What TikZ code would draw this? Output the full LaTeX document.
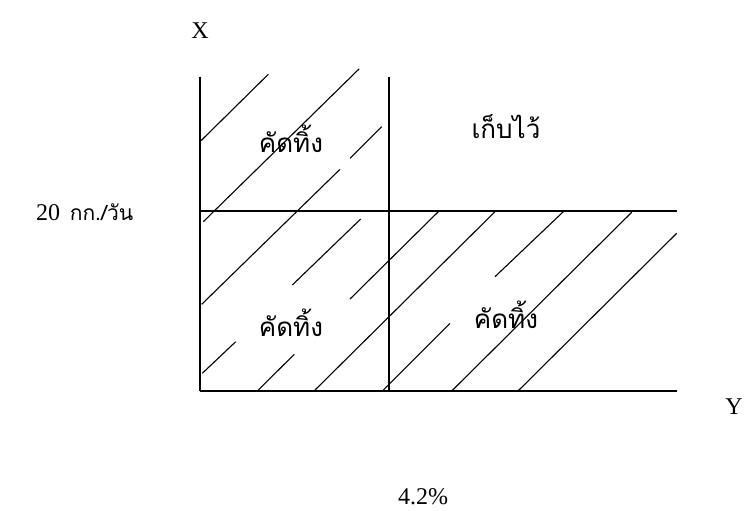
\documentclass[tikz,border=0pt]{standalone}
\usepackage{fontspec}
\setmainfont{Liberation Serif}
\newfontfamily\thai[Script=Thai]{Loma}
\tikzset{
  frame/.style={line width=1.6pt},
  hatch/.style={line width=1.1pt},
  lat/.style={font=\fontsize{24}{28}\selectfont, inner sep=0pt},
  thaitxt/.style={font=\thai\fontsize{26}{30}\selectfont, inner sep=0pt, anchor=base},
}
\begin{document}
\begin{tikzpicture}[x=1pt,y=-1pt]
\useasboundingbox (0,0) rectangle (744,511);
% frame
\coordinate (tl) at (200,76.5);
\coordinate (bl) at (200,391);
\coordinate (tm) at (389,76.5);
\coordinate (bm) at (389,391);
\coordinate (ml) at (200,211);
\coordinate (mr) at (677,211);
\coordinate (br) at (677,391);
\draw[frame] (tl) -- (bl);
\draw[frame] (tm) -- (bm);
\draw[frame] (ml) -- (mr);
\draw[frame] (bl) -- (br);
% hatching
\draw[hatch] (200,141.7) -- (268.3,74.3);
\draw[hatch] (203.3,221.7) -- (359,69);
\draw[hatch] (201.7,304.3) -- (340,169.3);
\draw[hatch] (350,158.3) -- (381.7,126.7);
\draw[hatch] (202.3,373.3) -- (235.7,341.7);
\draw[hatch] (292.3,285) -- (360.7,219);
\draw[hatch] (258.3,390) -- (294.3,354.3);
\draw[hatch] (350,299) -- (438.3,211.7);
\draw[hatch] (315,390) -- (495,211.7);
\draw[hatch] (383.3,390) -- (450,323.3);
\draw[hatch] (495,276.7) -- (563.3,211.7);
\draw[hatch] (451.7,391) -- (631.7,212.3);
\draw[hatch] (518.3,390.7) -- (676.7,233.3);
% labels
\node[lat] (xl) at (200,31) {X};
\node[lat] (yl) at (734,407) {Y};
\node[lat] (pct) at (423,497) {4.2\%};
\node[lat, anchor=base west] (kg) at (36,220) {20\hspace{0.4em}{\thai\fontsize{21}{24}\selectfont กก./วัน}};
\node[thaitxt] (ul) at (291,152) {คัดทิ้ง};
\node[thaitxt] (ur) at (506,138) {เก็บไว้};
\node[thaitxt] (ll) at (291,336.5) {คัดทิ้ง};
\node[thaitxt] (lr) at (506,328.5) {คัดทิ้ง};
\end{tikzpicture}
\end{document}
